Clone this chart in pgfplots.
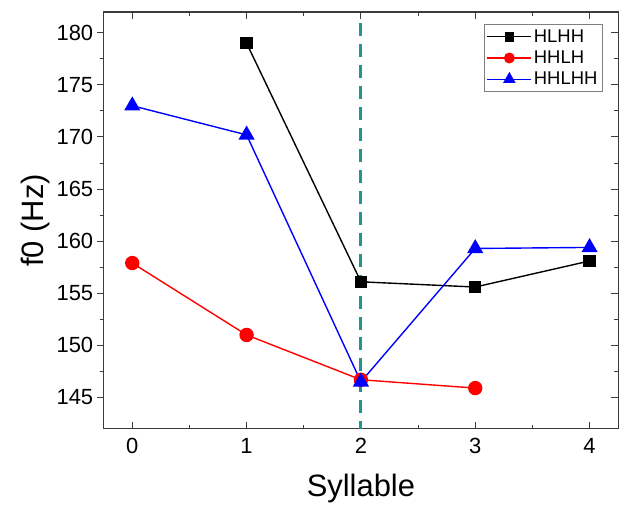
\documentclass[border=0pt]{standalone}
\usepackage{fontspec}
\setmainfont{Liberation Sans}
\usepackage{pgfplots}
\pgfplotsset{compat=1.18}
\definecolor{tealdash}{RGB}{32,150,145}
\definecolor{framegray}{RGB}{60,60,60}

\begin{document}
\begin{tikzpicture}
  % main axis: data, x ticks, inner y ticks on the right
  \begin{axis}[
    name=main,
    scale only axis,
    width=516pt, height=418pt,
    xmin=-0.25, xmax=4.25,
    ymin=142, ymax=182,
    xtick={0,1,2,3,4},
    minor x tick num=1,
    ytick={145,150,...,180},
    minor y tick num=1,
    ytick pos=right,
    yticklabels={},
    tick align=inside,
    major tick length=7pt,
    minor tick length=4pt,
    every tick/.style={framegray, line width=1pt},
    axis line style={framegray, line width=1.3pt},
    /pgf/number format/assume math mode=true,
    tick label style={font=\fontsize{22}{26}\selectfont},
    xticklabel style={yshift=-6pt},
    xlabel={Syllable},
    xlabel style={font=\fontsize{31}{36}\selectfont, yshift=-14pt},
    legend style={at={(0.97,0.97)}, anchor=north east,
      font=\fontsize{18.5}{22}\selectfont, draw=gray, line width=0.6pt,
      row sep=3pt, inner sep=3pt},
    legend cell align=left,
    legend image code/.code={
      \draw[line width=1.2pt, mark repeat=2, mark phase=2,
            every mark/.append style={scale=0.75}]
        plot coordinates {(0pt,0pt) (22pt,0pt) (44pt,0pt)};
    },
  ]
    \addplot[black, line width=1.4pt, mark=square*, mark size=5.5pt]
      coordinates {(1,179.0) (2,156.1) (3,155.6) (4,158.1)};
    \addlegendentry{HLHH}
    \addplot[red, line width=1.4pt, mark=*, mark size=6.5pt]
      coordinates {(0,157.9) (1,151.0) (2,146.7) (3,145.9)};
    \addlegendentry{HHLH}
    \addplot[blue, line width=1.4pt, mark=triangle*, mark size=8pt]
      coordinates {(0,173.0) (1,170.2) (2,146.5) (3,159.3) (4,159.4)};
    \addlegendentry{HHLHH}
    \addplot[tealdash, line width=3pt, dash pattern=on 13pt off 8pt, forget plot]
      coordinates {(2,180.9) (2,142)};
  \end{axis}
  % overlay axis: outward y ticks and labels on the left
  \begin{axis}[
    scale only axis,
    width=516pt, height=418pt,
    xmin=-0.25, xmax=4.25,
    ymin=142, ymax=182,
    hide x axis,
    axis y line*=left,
    ytick={145,150,...,180},
    minor y tick num=1,
    tick align=outside,
    major tick length=7pt,
    minor tick length=4pt,
    every tick/.style={framegray, line width=1pt},
    axis line style={framegray, line width=1.3pt, -},
    /pgf/number format/assume math mode=true,
    tick label style={font=\fontsize{22}{26}\selectfont},
    ylabel={f0 (Hz)},
    ylabel style={font=\fontsize{31}{36}\selectfont, yshift=0pt},
  ]
  \end{axis}
  \path ([xshift=-104pt,yshift=-80pt]main.south west) rectangle ([xshift=5pt,yshift=12pt]main.north east);
\end{tikzpicture}
\end{document}
